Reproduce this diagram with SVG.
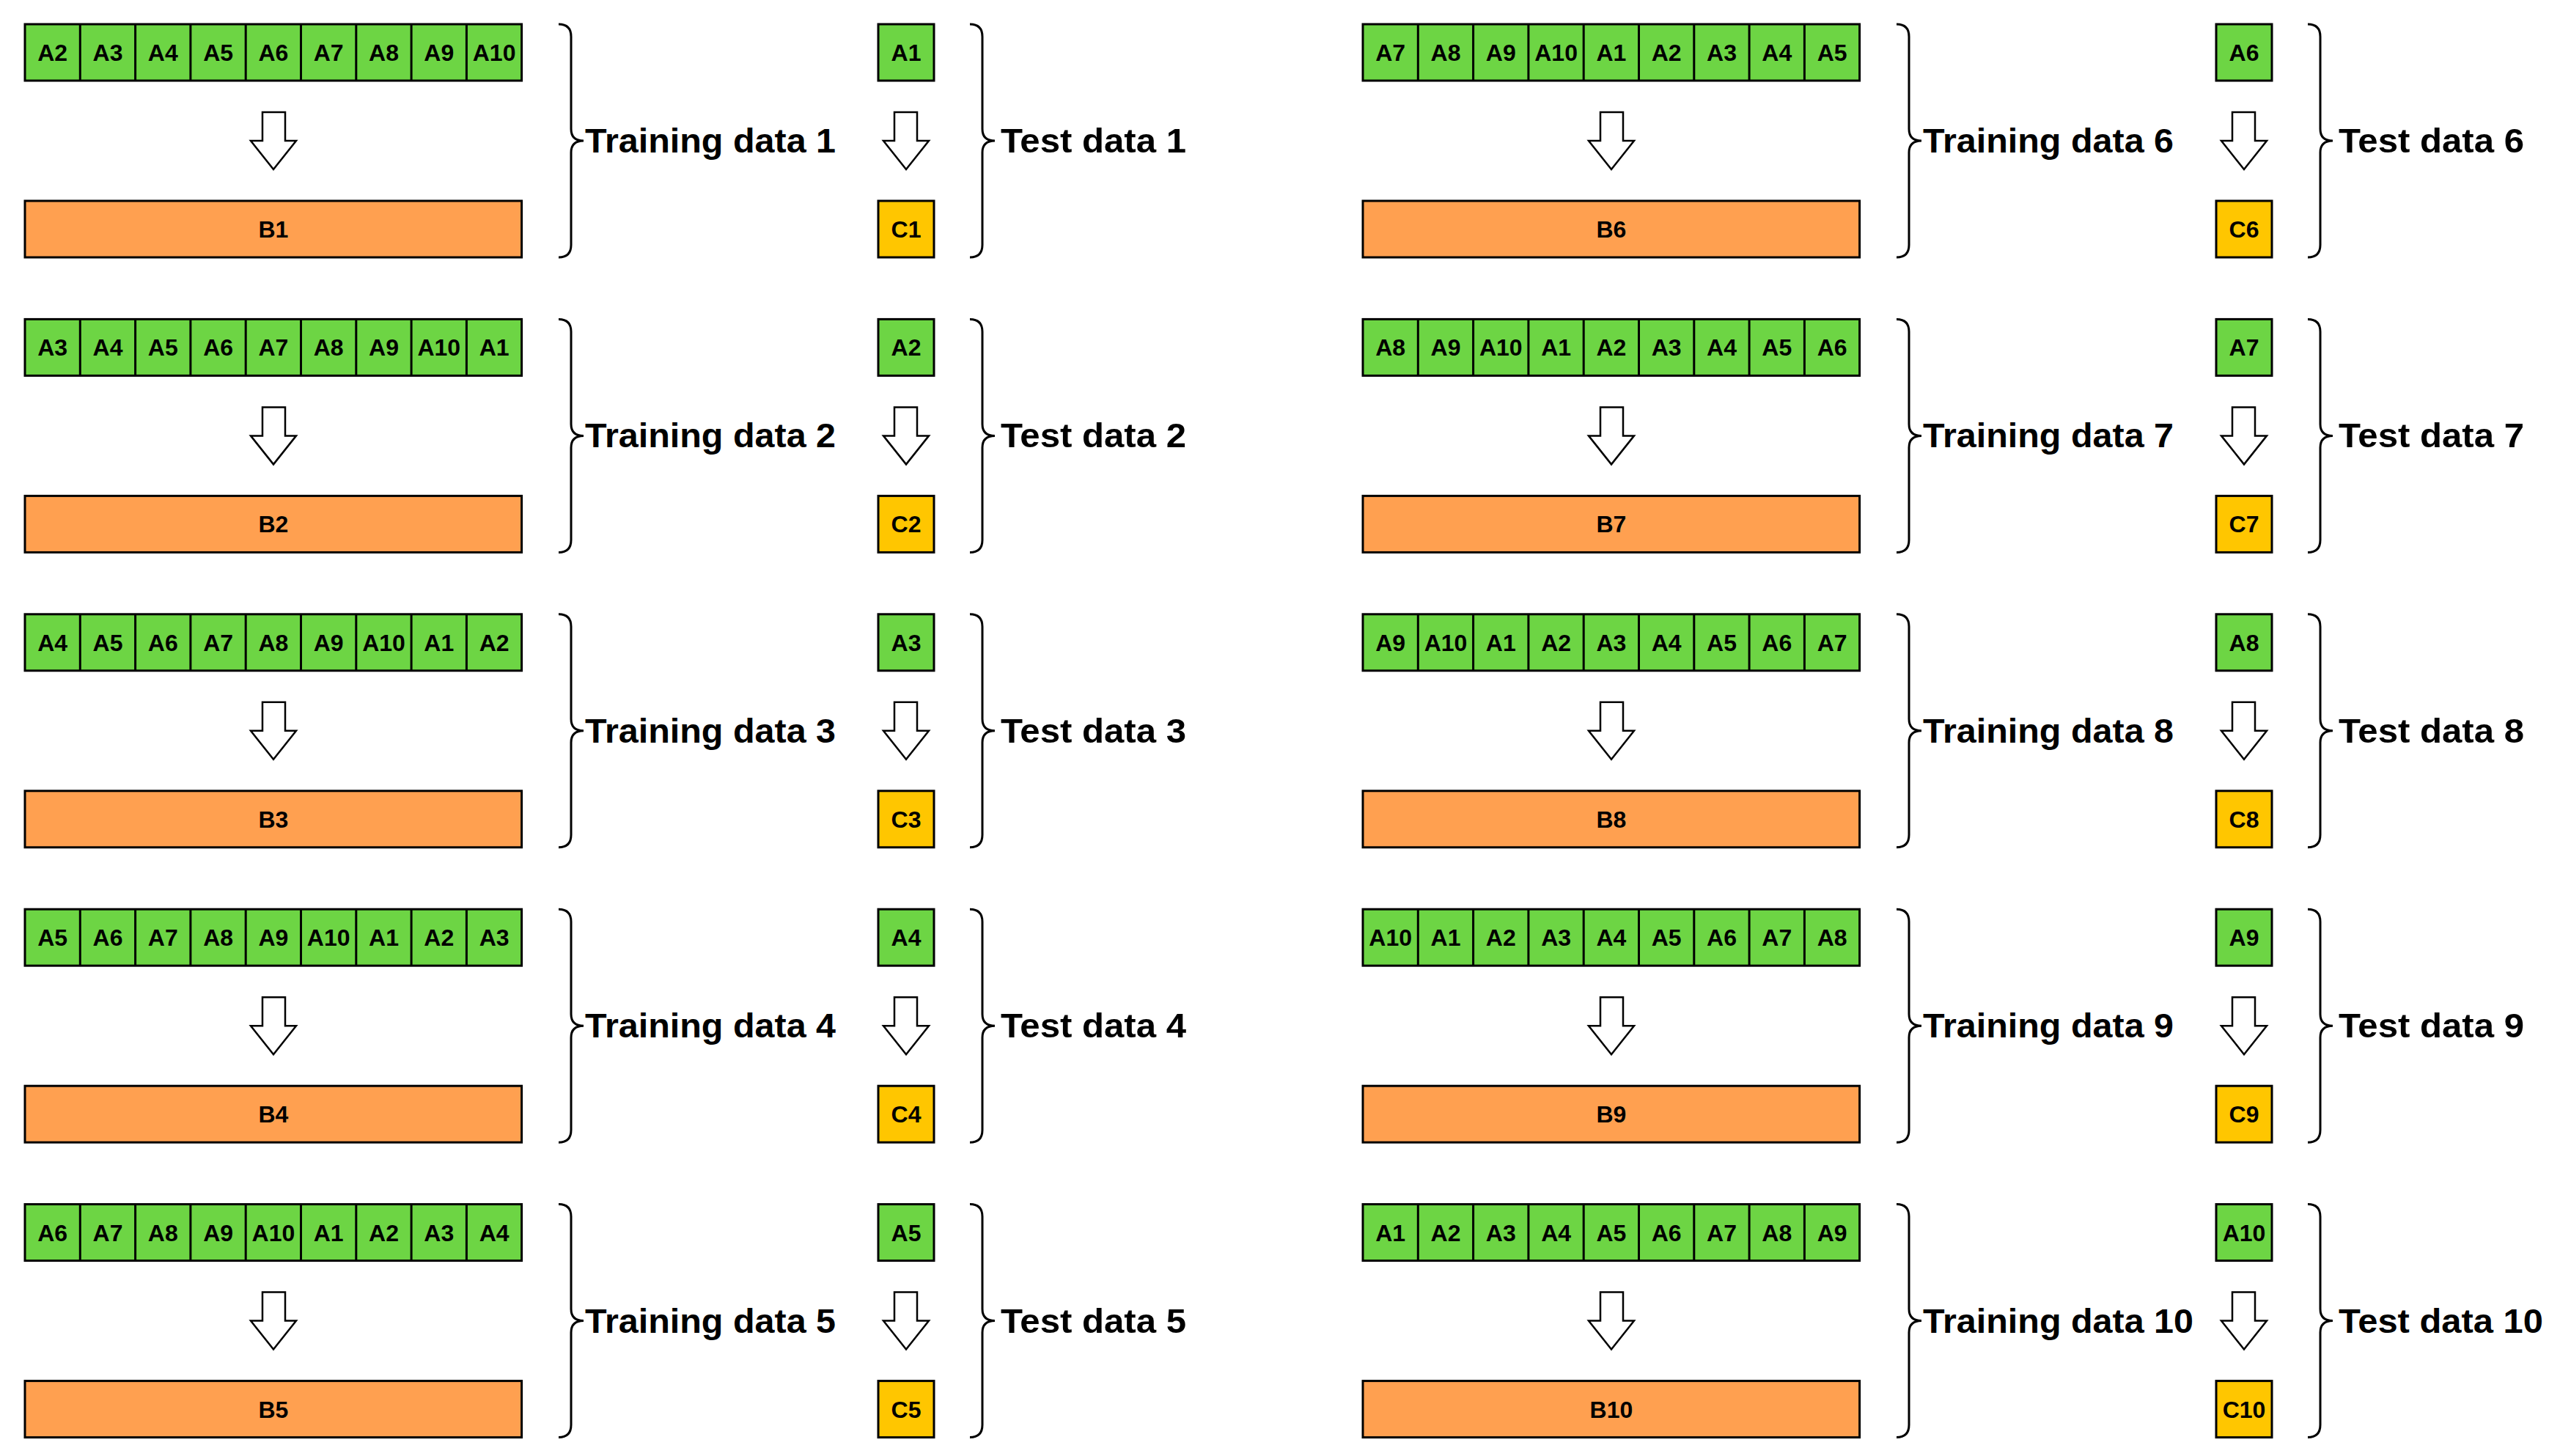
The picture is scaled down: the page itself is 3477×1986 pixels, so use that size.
<svg xmlns="http://www.w3.org/2000/svg" xmlns:xlink="http://www.w3.org/1999/xlink" width="3477" height="1986" viewBox="0 0 3477 1986">
<style>
.g{fill:#6dd544;stroke:#000;stroke-width:3}
.b{fill:#ffa050;stroke:#000;stroke-width:3}
.y{fill:#ffc600;stroke:#000;stroke-width:3}
.c{font-family:"Liberation Sans",Arial,sans-serif;font-weight:bold;font-size:32px;text-anchor:middle;fill:#000}
.l{font-family:"Liberation Sans",Arial,sans-serif;font-weight:bold;font-size:47px;fill:#000}
.br{fill:none;stroke:#000;stroke-width:3}
.ar{fill:#fff;stroke:#000;stroke-width:2.5;stroke-linejoin:miter}
</style>
<defs>
<g id="bar"><rect class="g" x="34" y="33" width="677.6" height="77"/><path d="M109.3,33V110M184.6,33V110M259.9,33V110M335.2,33V110M410.5,33V110M485.8,33V110M561.1,33V110M636.4,33V110" stroke="#000" stroke-width="3"/></g>
<path id="brace" class="br" d="M762,33 Q779,33 779,50 V176 Q779,192 796,192 Q779,192 779,208 V334 Q779,351 762,351"/>
<path id="arr" class="ar" d="M358,153 H389 V192 H404 L373,231 L342,192 H358 Z"/>
<path id="arrT" class="ar" d="M1220,153 H1251 V192 H1267 L1236,231 L1205,192 H1220 Z"/>
</defs>
<rect width="3477" height="1986" fill="#fff"/>
<g id="fold1" transform="translate(0,0)"><use xlink:href="#bar"/><text class="c" y="83"><tspan x="71.7">A2</tspan><tspan x="147">A3</tspan><tspan x="222.3">A4</tspan><tspan x="297.6">A5</tspan><tspan x="372.9">A6</tspan><tspan x="448.2">A7</tspan><tspan x="523.5">A8</tspan><tspan x="598.8">A9</tspan><tspan x="674.1">A10</tspan></text><rect class="b" x="34" y="274" width="677.6" height="77"/><text class="c" x="372.9" y="324">B1</text><use xlink:href="#brace"/><text class="l" x="798" y="208" textLength="342" lengthAdjust="spacingAndGlyphs">Training data 1</text><rect class="g" x="1198" y="33" width="76" height="77"/><text class="c" x="1236" y="83">A1</text><rect class="y" x="1198" y="274" width="76" height="77"/><text class="c" x="1236" y="324">C1</text><use xlink:href="#brace" transform="translate(561,0)"/><text class="l" x="1365" y="208" textLength="253" lengthAdjust="spacingAndGlyphs">Test data 1</text></g>
<g id="fold2" transform="translate(0,402.4)"><use xlink:href="#bar"/><text class="c" y="83"><tspan x="71.7">A3</tspan><tspan x="147">A4</tspan><tspan x="222.3">A5</tspan><tspan x="297.6">A6</tspan><tspan x="372.9">A7</tspan><tspan x="448.2">A8</tspan><tspan x="523.5">A9</tspan><tspan x="598.8">A10</tspan><tspan x="674.1">A1</tspan></text><rect class="b" x="34" y="274" width="677.6" height="77"/><text class="c" x="372.9" y="324">B2</text><use xlink:href="#brace"/><text class="l" x="798" y="208" textLength="342" lengthAdjust="spacingAndGlyphs">Training data 2</text><rect class="g" x="1198" y="33" width="76" height="77"/><text class="c" x="1236" y="83">A2</text><rect class="y" x="1198" y="274" width="76" height="77"/><text class="c" x="1236" y="324">C2</text><use xlink:href="#brace" transform="translate(561,0)"/><text class="l" x="1365" y="208" textLength="253" lengthAdjust="spacingAndGlyphs">Test data 2</text></g>
<g id="fold3" transform="translate(0,804.8)"><use xlink:href="#bar"/><text class="c" y="83"><tspan x="71.7">A4</tspan><tspan x="147">A5</tspan><tspan x="222.3">A6</tspan><tspan x="297.6">A7</tspan><tspan x="372.9">A8</tspan><tspan x="448.2">A9</tspan><tspan x="523.5">A10</tspan><tspan x="598.8">A1</tspan><tspan x="674.1">A2</tspan></text><rect class="b" x="34" y="274" width="677.6" height="77"/><text class="c" x="372.9" y="324">B3</text><use xlink:href="#brace"/><text class="l" x="798" y="208" textLength="342" lengthAdjust="spacingAndGlyphs">Training data 3</text><rect class="g" x="1198" y="33" width="76" height="77"/><text class="c" x="1236" y="83">A3</text><rect class="y" x="1198" y="274" width="76" height="77"/><text class="c" x="1236" y="324">C3</text><use xlink:href="#brace" transform="translate(561,0)"/><text class="l" x="1365" y="208" textLength="253" lengthAdjust="spacingAndGlyphs">Test data 3</text></g>
<g id="fold4" transform="translate(0,1207.2)"><use xlink:href="#bar"/><text class="c" y="83"><tspan x="71.7">A5</tspan><tspan x="147">A6</tspan><tspan x="222.3">A7</tspan><tspan x="297.6">A8</tspan><tspan x="372.9">A9</tspan><tspan x="448.2">A10</tspan><tspan x="523.5">A1</tspan><tspan x="598.8">A2</tspan><tspan x="674.1">A3</tspan></text><rect class="b" x="34" y="274" width="677.6" height="77"/><text class="c" x="372.9" y="324">B4</text><use xlink:href="#brace"/><text class="l" x="798" y="208" textLength="342" lengthAdjust="spacingAndGlyphs">Training data 4</text><rect class="g" x="1198" y="33" width="76" height="77"/><text class="c" x="1236" y="83">A4</text><rect class="y" x="1198" y="274" width="76" height="77"/><text class="c" x="1236" y="324">C4</text><use xlink:href="#brace" transform="translate(561,0)"/><text class="l" x="1365" y="208" textLength="253" lengthAdjust="spacingAndGlyphs">Test data 4</text></g>
<g id="fold5" transform="translate(0,1609.6)"><use xlink:href="#bar"/><text class="c" y="83"><tspan x="71.7">A6</tspan><tspan x="147">A7</tspan><tspan x="222.3">A8</tspan><tspan x="297.6">A9</tspan><tspan x="372.9">A10</tspan><tspan x="448.2">A1</tspan><tspan x="523.5">A2</tspan><tspan x="598.8">A3</tspan><tspan x="674.1">A4</tspan></text><rect class="b" x="34" y="274" width="677.6" height="77"/><text class="c" x="372.9" y="324">B5</text><use xlink:href="#brace"/><text class="l" x="798" y="208" textLength="342" lengthAdjust="spacingAndGlyphs">Training data 5</text><rect class="g" x="1198" y="33" width="76" height="77"/><text class="c" x="1236" y="83">A5</text><rect class="y" x="1198" y="274" width="76" height="77"/><text class="c" x="1236" y="324">C5</text><use xlink:href="#brace" transform="translate(561,0)"/><text class="l" x="1365" y="208" textLength="253" lengthAdjust="spacingAndGlyphs">Test data 5</text></g>
<g id="fold6" transform="translate(1825,0)"><use xlink:href="#bar"/><text class="c" y="83"><tspan x="71.7">A7</tspan><tspan x="147">A8</tspan><tspan x="222.3">A9</tspan><tspan x="297.6">A10</tspan><tspan x="372.9">A1</tspan><tspan x="448.2">A2</tspan><tspan x="523.5">A3</tspan><tspan x="598.8">A4</tspan><tspan x="674.1">A5</tspan></text><rect class="b" x="34" y="274" width="677.6" height="77"/><text class="c" x="372.9" y="324">B6</text><use xlink:href="#brace"/><text class="l" x="798" y="208" textLength="342" lengthAdjust="spacingAndGlyphs">Training data 6</text><rect class="g" x="1198" y="33" width="76" height="77"/><text class="c" x="1236" y="83">A6</text><rect class="y" x="1198" y="274" width="76" height="77"/><text class="c" x="1236" y="324">C6</text><use xlink:href="#brace" transform="translate(561,0)"/><text class="l" x="1365" y="208" textLength="253" lengthAdjust="spacingAndGlyphs">Test data 6</text></g>
<g id="fold7" transform="translate(1825,402.4)"><use xlink:href="#bar"/><text class="c" y="83"><tspan x="71.7">A8</tspan><tspan x="147">A9</tspan><tspan x="222.3">A10</tspan><tspan x="297.6">A1</tspan><tspan x="372.9">A2</tspan><tspan x="448.2">A3</tspan><tspan x="523.5">A4</tspan><tspan x="598.8">A5</tspan><tspan x="674.1">A6</tspan></text><rect class="b" x="34" y="274" width="677.6" height="77"/><text class="c" x="372.9" y="324">B7</text><use xlink:href="#brace"/><text class="l" x="798" y="208" textLength="342" lengthAdjust="spacingAndGlyphs">Training data 7</text><rect class="g" x="1198" y="33" width="76" height="77"/><text class="c" x="1236" y="83">A7</text><rect class="y" x="1198" y="274" width="76" height="77"/><text class="c" x="1236" y="324">C7</text><use xlink:href="#brace" transform="translate(561,0)"/><text class="l" x="1365" y="208" textLength="253" lengthAdjust="spacingAndGlyphs">Test data 7</text></g>
<g id="fold8" transform="translate(1825,804.8)"><use xlink:href="#bar"/><text class="c" y="83"><tspan x="71.7">A9</tspan><tspan x="147">A10</tspan><tspan x="222.3">A1</tspan><tspan x="297.6">A2</tspan><tspan x="372.9">A3</tspan><tspan x="448.2">A4</tspan><tspan x="523.5">A5</tspan><tspan x="598.8">A6</tspan><tspan x="674.1">A7</tspan></text><rect class="b" x="34" y="274" width="677.6" height="77"/><text class="c" x="372.9" y="324">B8</text><use xlink:href="#brace"/><text class="l" x="798" y="208" textLength="342" lengthAdjust="spacingAndGlyphs">Training data 8</text><rect class="g" x="1198" y="33" width="76" height="77"/><text class="c" x="1236" y="83">A8</text><rect class="y" x="1198" y="274" width="76" height="77"/><text class="c" x="1236" y="324">C8</text><use xlink:href="#brace" transform="translate(561,0)"/><text class="l" x="1365" y="208" textLength="253" lengthAdjust="spacingAndGlyphs">Test data 8</text></g>
<g id="fold9" transform="translate(1825,1207.2)"><use xlink:href="#bar"/><text class="c" y="83"><tspan x="71.7">A10</tspan><tspan x="147">A1</tspan><tspan x="222.3">A2</tspan><tspan x="297.6">A3</tspan><tspan x="372.9">A4</tspan><tspan x="448.2">A5</tspan><tspan x="523.5">A6</tspan><tspan x="598.8">A7</tspan><tspan x="674.1">A8</tspan></text><rect class="b" x="34" y="274" width="677.6" height="77"/><text class="c" x="372.9" y="324">B9</text><use xlink:href="#brace"/><text class="l" x="798" y="208" textLength="342" lengthAdjust="spacingAndGlyphs">Training data 9</text><rect class="g" x="1198" y="33" width="76" height="77"/><text class="c" x="1236" y="83">A9</text><rect class="y" x="1198" y="274" width="76" height="77"/><text class="c" x="1236" y="324">C9</text><use xlink:href="#brace" transform="translate(561,0)"/><text class="l" x="1365" y="208" textLength="253" lengthAdjust="spacingAndGlyphs">Test data 9</text></g>
<g id="fold10" transform="translate(1825,1609.6)"><use xlink:href="#bar"/><text class="c" y="83"><tspan x="71.7">A1</tspan><tspan x="147">A2</tspan><tspan x="222.3">A3</tspan><tspan x="297.6">A4</tspan><tspan x="372.9">A5</tspan><tspan x="448.2">A6</tspan><tspan x="523.5">A7</tspan><tspan x="598.8">A8</tspan><tspan x="674.1">A9</tspan></text><rect class="b" x="34" y="274" width="677.6" height="77"/><text class="c" x="372.9" y="324">B10</text><use xlink:href="#brace"/><text class="l" x="798" y="208" textLength="369" lengthAdjust="spacingAndGlyphs">Training data 10</text><rect class="g" x="1198" y="33" width="76" height="77"/><text class="c" x="1236" y="83" font-size="30">A10</text><rect class="y" x="1198" y="274" width="76" height="77"/><text class="c" x="1236" y="324" font-size="30">C10</text><use xlink:href="#brace" transform="translate(561,0)"/><text class="l" x="1365" y="208" textLength="279" lengthAdjust="spacingAndGlyphs">Test data 10</text></g>
<g id="connectors">
<g transform="translate(0,0)"><use xlink:href="#arr"/><use xlink:href="#arrT"/></g>
<g transform="translate(0,402.4)"><use xlink:href="#arr"/><use xlink:href="#arrT"/></g>
<g transform="translate(0,804.8)"><use xlink:href="#arr"/><use xlink:href="#arrT"/></g>
<g transform="translate(0,1207.2)"><use xlink:href="#arr"/><use xlink:href="#arrT"/></g>
<g transform="translate(0,1609.6)"><use xlink:href="#arr"/><use xlink:href="#arrT"/></g>
<g transform="translate(1825,0)"><use xlink:href="#arr"/><use xlink:href="#arrT"/></g>
<g transform="translate(1825,402.4)"><use xlink:href="#arr"/><use xlink:href="#arrT"/></g>
<g transform="translate(1825,804.8)"><use xlink:href="#arr"/><use xlink:href="#arrT"/></g>
<g transform="translate(1825,1207.2)"><use xlink:href="#arr"/><use xlink:href="#arrT"/></g>
<g transform="translate(1825,1609.6)"><use xlink:href="#arr"/><use xlink:href="#arrT"/></g>
</g>
</svg>
